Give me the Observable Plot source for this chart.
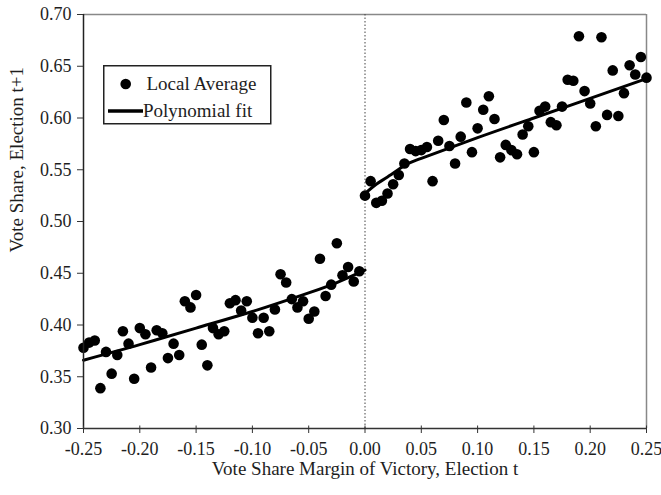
<!DOCTYPE html>
<html>
<head>
<meta charset="utf-8">
<script src="https://cdn.jsdelivr.net/npm/d3@7"></script>
<script src="https://cdn.jsdelivr.net/npm/@observablehq/plot@0.6"></script>
<style>
  html, body { margin: 0; padding: 0; background: #fff; }
  #wrap { position: relative; width: 661px; height: 495px; }
  #legend { position: absolute; left: 103px; top: 65px; }
</style>
</head>
<body>
<div id="wrap"></div>
<script>
// Local averages, left of the threshold (losers)
const leftMargin = [-0.250,-0.245,-0.240,-0.235,-0.230,-0.225,-0.220,-0.215,-0.210,-0.205,
  -0.200,-0.195,-0.190,-0.185,-0.180,-0.175,-0.170,-0.165,-0.160,-0.155,
  -0.150,-0.145,-0.140,-0.135,-0.130,-0.125,-0.120,-0.115,-0.110,-0.105,
  -0.100,-0.095,-0.090,-0.085,-0.080,-0.075,-0.070,-0.065,-0.060,-0.055,
  -0.050,-0.045,-0.040,-0.035,-0.030,-0.025,-0.020,-0.015,-0.010,-0.005];
const leftShare = [0.378,0.383,0.385,0.339,0.374,0.353,0.371,0.394,0.382,0.348,
  0.397,0.391,0.359,0.395,0.392,0.368,0.382,0.371,0.423,0.417,
  0.429,0.381,0.361,0.397,0.391,0.394,0.421,0.424,0.414,0.423,
  0.407,0.392,0.407,0.394,0.415,0.449,0.441,0.425,0.417,0.423,
  0.406,0.413,0.464,0.428,0.439,0.479,0.448,0.456,0.442,0.452];
// Local averages, right of the threshold (winners)
const rightMargin = [0.000,0.005,0.010,0.015,0.020,0.025,0.030,0.035,0.040,0.045,
  0.050,0.055,0.060,0.065,0.070,0.075,0.080,0.085,0.090,0.095,
  0.100,0.105,0.110,0.115,0.120,0.125,0.130,0.135,0.140,0.145,
  0.150,0.155,0.160,0.165,0.170,0.175,0.180,0.185,0.190,0.195,
  0.200,0.205,0.210,0.215,0.220,0.225,0.230,0.235,0.240,0.245,0.250];
const rightShare = [0.525,0.539,0.518,0.520,0.527,0.536,0.545,0.556,0.570,0.568,
  0.569,0.572,0.539,0.578,0.598,0.573,0.556,0.582,0.615,0.567,
  0.590,0.608,0.621,0.599,0.562,0.574,0.569,0.565,0.584,0.592,
  0.567,0.607,0.611,0.596,0.593,0.611,0.637,0.636,0.679,0.626,
  0.614,0.592,0.678,0.603,0.646,0.602,0.624,0.651,0.642,0.659,0.639];
// Polynomial fit
const fitLeftX = [-0.25,-0.20,-0.15,-0.10,-0.05,-0.025,0.0];
const fitLeftY = [0.366,0.381,0.397,0.413,0.431,0.441,0.453];
const fitRightX = [0.0,0.01,0.02,0.035,0.05,0.10,0.15,0.20,0.25];
const fitRightY = [0.527,0.536,0.543,0.554,0.561,0.581,0.600,0.619,0.638];
// Axes
const xTicks = [-0.25,-0.20,-0.15,-0.10,-0.05,0.00,0.05,0.10,0.15,0.20,0.25];
const yTicks = [0.30,0.35,0.40,0.45,0.50,0.55,0.60,0.65,0.70];
const xLabel = "Vote Share Margin of Victory, Election t";
const yLabel = "Vote Share, Election t+1";
const legendLabels = ["Local Average", "Polynomial fit"];

const points = [
  ...leftMargin.map((m, i) => ({margin: m, share: leftShare[i]})),
  ...rightMargin.map((m, i) => ({margin: m, share: rightShare[i]}))
];
const fitLeft = fitLeftX.map((m, i) => ({margin: m, share: fitLeftY[i]}));
const fitRight = fitRightX.map((m, i) => ({margin: m, share: fitRightY[i]}));
const fmt = d => d.toFixed(2);
const ink = "#1e1e1e";

const chart = Plot.plot({
  width: 661,
  height: 495,
  marginLeft: 83,
  marginRight: 15,
  marginTop: 14,
  marginBottom: 67,
  style: {fontFamily: "'Liberation Serif', 'Times New Roman', serif", fontSize: "18px", color: ink, background: "#fff"},
  x: {domain: [-0.25, 0.25]},
  y: {domain: [0.30, 0.70]},
  marks: [
    Plot.ruleY([0.70], {stroke: "#888", strokeWidth: 1.5}),
    Plot.ruleX([0.25], {stroke: "#888", strokeWidth: 1.5}),
    Plot.ruleX([0], {stroke: "#444", strokeWidth: 1, strokeDasharray: "1.5,2"}),
    Plot.line(fitLeft, {x: "margin", y: "share", curve: "natural", stroke: "#000", strokeWidth: 3}),
    Plot.line(fitRight, {x: "margin", y: "share", curve: "natural", stroke: "#000", strokeWidth: 3}),
    Plot.dot(points, {x: "margin", y: "share", r: 5.3, fill: "#000", stroke: "none"}),
    Plot.ruleX([-0.25], {stroke: "#222", strokeWidth: 1.5}),
    Plot.ruleY([0.30], {stroke: "#333", strokeWidth: 1.5}),
    Plot.ruleX(xTicks, {x: d => d, y1: 0.30, y2: 0.30, insetTop: -2.5, insetBottom: 0, stroke: "#333", strokeWidth: 1}),
    Plot.axisX({ticks: xTicks, tickFormat: fmt, tickSize: 5, tickPadding: 9, label: null, stroke: "#333", fill: ink, fontSize: 18}),
    Plot.axisY({ticks: yTicks, tickFormat: fmt, tickSize: 6, tickPadding: 6, label: null, stroke: "#333", fill: ink, fontSize: 18}),
    Plot.text([xLabel], {frameAnchor: "bottom", dy: 40, lineAnchor: "middle", fontSize: 19, fill: ink}),
    Plot.text([yLabel], {frameAnchor: "left", rotate: -90, dx: -67, dy: 31, lineAnchor: "middle", fontSize: 19, fill: ink})
  ]
});
document.getElementById("wrap").appendChild(chart);

// Legend overlay
const leg = d3.select("#wrap").append("div").attr("id", "legend")
  .append("svg").attr("width", 169).attr("height", 60)
  .style("font-family", "'Liberation Serif', 'Times New Roman', serif");
leg.append("rect").attr("x", 0.75).attr("y", 0.75).attr("width", 167).attr("height", 58)
  .attr("fill", "#fff").attr("stroke", "#222").attr("stroke-width", 1.5);
leg.append("circle").attr("cx", 22.7).attr("cy", 19).attr("r", 5.3).attr("fill", "#000");
leg.append("line").attr("x1", 5).attr("x2", 40).attr("y1", 46).attr("y2", 46)
  .attr("stroke", "#000").attr("stroke-width", 3.5);
leg.selectAll("text.l").data(legendLabels).join("text")
  .attr("x", (d, i) => i === 0 ? 43.5 : 40)
  .attr("y", (d, i) => i === 0 ? 19 : 46)
  .attr("dy", "0.32em")
  .attr("font-size", 19)
  .attr("fill", ink)
  .text(d => d);
</script>
</body>
</html>
